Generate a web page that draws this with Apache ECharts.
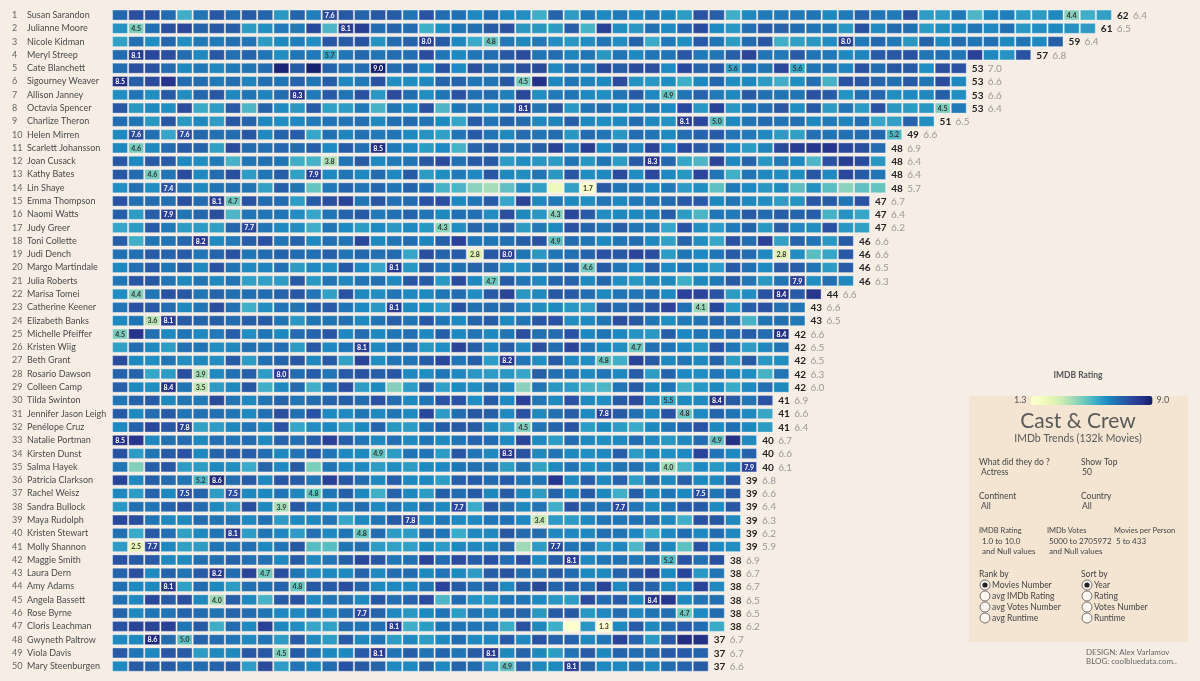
<!DOCTYPE html>
<html><head><meta charset="utf-8">
<script src="https://cdn.jsdelivr.net/npm/echarts/dist/echarts.min.js"></script>
<style>html,body{margin:0;padding:0;background:#f6eee5;}#chart{width:1200px;height:681px;}</style>
</head><body><div id="chart"></div>
<script>
const names = ["Susan Sarandon","Julianne Moore","Nicole Kidman","Meryl Streep","Cate Blanchett","Sigourney Weaver","Allison Janney","Octavia Spencer","Charlize Theron","Helen Mirren","Scarlett Johansson","Joan Cusack","Kathy Bates","Lin Shaye","Emma Thompson","Naomi Watts","Judy Greer","Toni Collette","Judi Dench","Margo Martindale","Julia Roberts","Marisa Tomei","Catherine Keener","Elizabeth Banks","Michelle Pfeiffer","Kristen Wiig","Beth Grant","Rosario Dawson","Colleen Camp","Tilda Swinton","Jennifer Jason Leigh","Penélope Cruz","Natalie Portman","Kirsten Dunst","Salma Hayek","Patricia Clarkson","Rachel Weisz","Sandra Bullock","Maya Rudolph","Kristen Stewart","Molly Shannon","Maggie Smith","Laura Dern","Amy Adams","Angela Bassett","Rose Byrne","Cloris Leachman","Gwyneth Paltrow","Viola Davis","Mary Steenburgen"];
const movieCounts = [62,61,59,57,53,53,53,53,51,49,48,48,48,48,47,47,47,46,46,46,46,44,43,43,42,42,42,42,42,41,41,41,40,40,40,39,39,39,39,39,39,38,38,38,38,38,38,37,37,37];
const avgRatings = [6.4,6.5,6.4,6.8,7.0,6.6,6.6,6.4,6.5,6.6,6.9,6.4,6.4,5.7,6.7,6.4,6.2,6.6,6.6,6.5,6.3,6.6,6.6,6.5,6.6,6.5,6.5,6.3,6.0,6.9,6.6,6.4,6.7,6.6,6.1,6.8,6.6,6.4,6.3,6.2,5.9,6.9,6.7,6.7,6.5,6.5,6.2,6.7,6.7,6.6];
const ratingRange = [1.3, 9.0];
// movie ratings per actress, in year order
const ratings = [
[6.9,7.5,7.4,6.8,5.4,6.6,7.3,6.8,7.2,7.0,5.9,7.0,6.4,7.6,7.3,7.0,7.3,7.2, 6.6,7.4,6.8,6.7,6.2,6.7,6.2,6.1,5.4,7.0,5.8,6.5,6.2,6.5,6.2,6.5,6.2,5.8,7.4,7.1,5.4,6.2,6.5,6.5, 6.5,6.6,6.2,6.5,7.0,6.6,6.5,7.5,5.8,5.8,6.5,5.2,6.2,6.4,5.8,5.8,6.2,4.4,5.4,5.7],
[6.0,4.5,6.7,7.5,7.7,7.0,7.3,7.1,5.8,6.1,6.5,6.5,7.7,5.2,8.1,8.0,6.8,7.0, 6.8,5.4,6.1,6.6,6.7,7.2,7.4,5.9,5.9,5.8,7.1,5.3,7.9,6.1,5.9,6.7,6.2,6.9,7.6,6.2,5.9,6.7,7.2,7.0, 6.8,6.6,6.5,5.9,7.4,6.2,6.8,6.7,5.8,6.1,6.2,6.6,6.2,6.7,5.9,6.1,6.2,6.0,5.8],
[5.7,6.7,6.1,6.9,6.1,6.5,6.5,6.7,6.6,5.8,6.2,6.4,6.1,7.3,7.2,7.4,6.0,6.8, 7.0,8.0,7.2,6.2,5.5,4.8,6.5,6.2,6.5,6.1,5.9,6.1,6.6,6.1,7.0,5.5,6.5,6.1,7.2,6.6,5.8,6.8,7.3,5.4, 5.7,5.9,6.1,8.0,6.5,6.9,6.5,5.9,7.0,6.2,6.8,6.6,6.7,6.2,6.6,6.2,7.1],
[6.8,8.1,7.7,7.5,6.8,6.2,7.3,6.7,7.0,6.6,6.1,6.6,6.5,5.7,6.6,6.9,6.6,6.8, 6.7,7.6,6.6,6.2,6.6,6.8,7.3,7.6,6.6,6.8,6.3,6.6,5.9,6.6,6.2,6.6,6.6,7.3,6.5,6.6,7.1,7.8,6.6,6.5, 7.2,6.6,6.5,6.2,6.3,7.2,7.3,7.4,6.6,6.7,6.6,7.9,6.2,6.0,7.4],
[6.8,7.5,7.4,6.8,6.2,6.5,6.2,6.5,6.6,6.8,8.8,7.2,8.9,7.0,6.7,6.8,9.0,6.8, 7.0,6.2,7.4,6.2,7.5,6.8,7.0,7.5,7.6,6.2,6.7,6.5,7.7,7.1,7.6,7.5,6.2,7.7,7.0,7.3,5.6,6.7,6.6,7.7, 5.6,6.6,6.6,6.3,7.4,6.8,7.3,7.2,6.1,7.5,7.4],
[8.5,7.1,7.6,8.3,6.8,6.8,6.5,6.7,6.3,6.7,6.6,7.0,6.6,7.1,6.2,6.5,7.4,6.1, 6.1,6.2,7.0,7.0,6.6,6.6,7.3,4.5,8.4,6.2,6.6,6.3,6.2,7.6,6.0,5.9,6.1,5.4,6.2,6.9,6.1,6.2,5.8,5.4, 6.1,6.7,5.3,7.4,7.3,7.0,6.7,7.2,6.6,7.6,6.2],
[6.1,6.6,6.1,7.2,6.1,6.9,7.3,6.2,6.6,6.3,6.8,8.3,6.5,7.2,6.6,7.4,5.9,7.6, 6.8,6.1,6.6,7.4,6.7,6.8,6.4,7.7,6.1,6.5,6.6,6.2,6.1,6.6,7.2,6.2,4.9,6.6,7.0,6.5,6.2,7.2,6.7,6.6, 6.6,7.4,7.2,6.0,6.7,6.9,6.1,6.2,6.2,7.1,6.1],
[7.3,5.9,6.2,6.1,7.6,5.5,5.8,7.2,5.2,7.0,6.2,5.9,7.2,5.7,5.8,6.5,5.3,6.6, 6.1,7.4,5.2,6.6,6.5,6.2,6.7,8.1,6.6,7.3,5.9,6.6,6.8,6.2,6.2,6.6,6.2,7.7,5.9,7.9,5.9,6.6,6.8,7.3, 6.1,7.2,5.8,6.6,5.8,7.4,5.9,5.8,5.9,4.5,6.5],
[6.8,6.6,5.9,7.3,5.9,6.2,5.8,7.3,7.0,6.2,6.1,6.2,6.5,6.6,6.6,6.7,6.2,6.7, 6.8,6.6,6.2,5.6,7.2,6.6,7.0,6.8,6.2,6.3,7.1,6.2,6.1,6.2,6.8,6.2,6.0,8.1,7.7,5.0,6.2,6.6,6.8,6.6, 6.7,6.2,6.5,6.3,6.7,5.6,5.7,7.0,6.1],
[6.2,7.6,6.7,5.6,7.6,6.9,6.7,6.8,7.3,6.2,7.0,7.1,5.6,6.7,6.3,6.7,6.5,6.6, 6.2,6.0,5.7,6.6,7.2,6.6,6.2,6.8,6.6,6.8,5.9,6.8,6.6,5.9,6.8,6.6,6.2,6.8,7.0,7.2,6.6,6.5,6.2,5.8, 5.7,6.7,6.6,6.7,6.8,6.9,5.2],
[6.2,4.6,6.2,6.8,7.2,7.0,5.7,7.6,6.8,6.7,6.9,6.8,7.1,6.2,7.2,6.7,8.5,6.5, 6.2,5.8,6.2,5.3,7.0,7.2,6.8,6.8,7.1,7.9,6.5,8.0,6.2,7.0,6.3,7.8,6.2,7.7,7.2,7.1,6.2,5.8,6.3,7.7, 8.0,8.2,8.3,7.7,7.5,6.8],
[7.3,6.2,7.2,7.2,6.2,6.1,6.5,5.3,6.6,6.7,6.6,5.4,5.3,3.8,6.6,7.2,6.2,6.5, 6.6,7.3,7.6,6.7,7.2,7.2,5.8,6.1,5.9,5.8,6.6,5.9,6.6,5.8,7.2,8.3,6.9,5.6,5.2,7.8,6.2,7.0,5.9,6.5, 6.2,5.2,7.4,8.0,7.6,5.9],
[7.3,6.8,4.6,6.6,7.6,6.2,6.8,7.5,5.8,6.6,7.1,5.7,7.9,6.2,6.6,6.2,6.8,6.2, 7.2,5.8,6.1,6.5,6.2,7.3,6.2,6.1,6.6,5.9,7.3,6.1,6.2,7.6,6.1,7.7,6.2,5.9,7.8,6.6,5.4,6.6,6.2,6.1, 6.1,7.3,6.2,7.7,7.2,6.6],
[6.1,6.7,6.1,7.4,6.6,6.2,6.6,6.7,6.6,5.7,7.1,6.6,4.8,6.5,7.0,6.6,6.9,6.6, 7.0,6.6,5.3,5.2,4.3,3.9,4.9,6.0,5.7,2.2,5.7,1.7,7.2,6.6,6.6,6.2,6.5,5.8,6.1,4.9,6.5,6.2,5.9,6.2, 5.0,6.0,5.0,4.3,4.9,4.8],
[7.4,6.7,6.8,6.7,7.5,6.8,8.1,4.7,7.4,6.8,6.8,5.8,7.2,7.5,7.8,6.6,7.3,6.7, 6.8,7.4,7.5,6.2,6.6,7.2,5.6,7.8,6.2,6.5,6.2,6.1,6.6,6.2,6.5,6.6,6.8,7.2,7.2,6.2,6.6,6.2,6.1,5.8, 6.0,7.3,7.2,6.6,7.4],
[7.1,5.8,7.1,7.9,6.6,6.9,7.5,5.2,6.6,6.6,6.6,6.1,5.6,6.6,7.0,7.2,6.5,6.7, 7.0,6.6,6.2,6.7,6.7,6.1,7.5,6.2,5.9,4.3,7.7,7.2,6.1,6.2,6.2,6.3,7.1,5.8,5.2,6.6,6.5,7.2,6.8,7.1, 7.0,7.1,5.3,6.0,5.6],
[5.6,5.8,7.2,6.5,5.8,5.8,5.7,6.9,7.7,6.6,6.2,6.1,5.4,6.6,6.2,5.8,6.2,5.9, 6.2,5.9,4.3,6.1,6.9,6.6,7.2,5.8,6.5,6.2,7.4,7.0,6.6,7.1,6.6,6.5,5.6,7.4,6.1,5.8,6.5,7.0,5.9,7.1, 6.2,6.1,7.4,5.9,5.7],
[7.1,5.4,6.6,6.6,6.9,8.2,6.2,6.5,7.1,7.4,6.6,7.0,6.2,6.7,6.6,7.7,6.2,6.6, 6.8,6.3,7.1,7.9,6.6,6.6,6.7,7.1,7.4,4.9,6.8,6.6,6.2,6.6,6.8,6.2,5.7,7.0,6.1,5.6,7.4,6.8,7.9,5.7, 7.0,6.6,5.9,7.2],
[6.7,6.7,7.2,7.0,7.2,6.6,7.0,7.4,6.6,6.8,7.0,6.8,6.7,7.1,6.6,6.9,6.7,6.8, 5.6,7.5,7.0,7.2,2.8,7.3,8.0,6.6,5.9,6.6,6.7,7.0,7.4,7.3,7.8,7.5,5.8,6.6,6.2,6.6,7.2,6.8,6.2,2.8, 6.1,5.0,5.6,7.3],
[6.2,6.7,7.2,6.6,7.1,6.2,7.4,6.6,6.2,6.3,6.7,5.8,6.2,6.1,7.3,6.2,5.6,8.1, 5.9,7.2,6.6,6.7,7.0,6.9,6.2,6.1,6.6,6.6,7.0,4.6,7.2,6.6,6.2,7.1,6.2,6.6,6.2,5.8,7.2,6.7,6.2,7.1, 7.1,6.6,5.8,7.2],
[6.6,7.3,7.3,6.6,6.2,6.6,6.2,6.6,5.7,5.7,5.8,7.2,5.9,6.6,6.2,6.6,6.7,6.2, 7.3,7.2,5.9,7.6,6.2,4.7,7.2,6.6,6.2,6.9,7.0,6.2,6.9,6.1,5.9,6.2,6.2,5.4,6.2,6.5,7.2,6.6,5.9,6.6, 7.9,6.1,6.7,6.2],
[6.1,4.4,6.6,7.4,7.3,6.6,7.0,6.7,6.7,6.8,7.0,7.3,6.6,5.7,7.4,6.2,6.1,6.6, 6.2,6.2,6.6,6.8,6.1,7.2,7.8,5.9,6.2,7.3,7.2,6.8,6.2,6.6,6.6,6.7,6.2,7.9,7.8,7.4,5.8,6.1,7.4,8.4, 7.2,8.2],
[6.6,7.4,7.2,6.8,6.2,6.6,7.6,6.7,5.4,6.1,6.6,6.6,7.1,7.2,6.6,6.2,5.9,8.1, 6.2,6.1,5.8,7.4,6.7,6.8,7.0,6.2,6.1,6.2,5.9,5.8,7.2,6.8,7.1,7.4,7.8,6.7,4.1,7.7,5.9,7.1,7.4,6.7, 6.6],
[6.2,6.6,3.6,8.1,7.2,7.0,7.1,6.8,7.1,7.2,6.6,5.9,6.6,6.6,6.7,6.2,6.6,7.1, 6.6,7.3,6.6,6.2,7.0,7.2,6.2,6.6,7.3,7.4,6.1,6.2,6.6,7.5,7.3,6.6,6.1,6.5,6.6,7.0,6.7,5.3,6.6,6.7, 6.5],
[4.5,8.3,6.7,6.2,6.6,6.2,6.5,7.1,6.1,6.6,6.2,6.8,7.0,7.3,6.2,6.8,6.2,6.6, 6.7,6.2,7.1,6.2,6.6,6.2,6.6,7.5,6.7,6.8,7.4,6.2,6.6,6.2,6.0,5.9,7.1,6.2,6.6,6.6,6.8,7.1,6.8,8.4],
[5.7,6.8,6.2,5.8,6.7,6.6,6.1,6.2,6.7,6.6,6.8,5.8,7.3,6.2,6.6,8.1,6.2,6.6, 6.7,5.9,6.1,7.8,7.1,6.2,7.1,6.2,7.5,6.8,7.8,6.6,6.2,6.1,4.7,6.7,6.6,6.2,5.9,7.4,6.6,5.8,6.2,6.6],
[7.6,6.2,6.1,6.6,6.1,6.2,6.1,7.2,5.8,6.7,7.0,7.3,6.2,7.2,5.7,7.8,6.1,6.6, 6.6,7.2,7.7,6.6,7.1,5.8,8.2,6.6,6.1,7.2,6.2,6.1,4.8,5.4,7.9,7.2,6.2,6.6,6.2,7.0,5.8,7.2,5.9,6.1],
[7.0,7.0,5.6,5.8,7.5,3.9,6.2,6.7,7.1,5.8,8.0,6.8,7.2,6.6,7.2,7.4,7.1,7.3, 6.2,6.1,6.6,6.2,5.9,5.8,5.9,5.6,7.1,6.7,6.6,6.2,6.6,6.2,7.2,5.8,7.0,6.2,6.1,6.6,6.2,6.1,5.3,6.6],
[7.1,6.2,6.1,8.4,6.6,3.5,5.8,6.2,7.3,5.4,6.2,6.8,5.4,6.6,7.5,5.8,6.2,4.4, 5.8,7.2,5.7,6.2,6.1,6.6,6.2,4.3,6.6,5.9,5.8,5.3,5.2,6.6,7.2,6.2,6.6,5.4,5.9,6.2,5.5,6.2,6.7,6.2],
[6.6,7.0,7.2,6.2,6.6,6.5,7.6,6.6,6.2,6.6,7.0,6.6,6.8,7.0,7.1,6.8,7.4,6.8, 6.2,6.6,7.4,7.4,6.1,7.2,6.2,7.9,6.6,6.2,7.4,6.2,6.1,7.2,7.6,6.2,5.5,6.2,6.2,8.4,7.2,6.6,7.4],
[7.2,6.2,6.8,7.2,6.6,6.7,6.7,6.6,6.2,6.7,7.5,6.7,7.4,6.2,6.2,6.6,6.2,6.6, 6.2,7.7,5.8,6.8,7.3,7.1,6.2,7.4,6.2,6.7,7.1,6.2,7.8,7.2,6.7,6.2,7.4,4.8,6.2,7.0,6.6,6.2,5.6],
[6.2,7.0,7.7,7.3,7.8,5.7,5.8,6.2,6.6,6.2,7.4,5.6,6.1,6.2,5.8,6.2,7.0,5.9, 5.8,6.6,7.2,7.3,7.2,6.2,5.7,4.5,6.6,7.0,7.4,5.8,6.2,5.8,5.5,6.2,6.6,7.0,7.4,6.2,6.7,6.2,5.8],
[8.5,8.2,6.2,6.7,6.8,6.2,6.7,6.6,6.8,6.2,7.0,6.7,7.1,7.9,7.1,6.6,6.2,6.7, 6.2,6.6,6.2,6.6,7.0,6.8,6.2,7.8,6.2,5.8,6.8,6.2,6.1,6.2,6.8,6.2,5.9,6.2,6.8,4.9,8.4,6.2],
[7.4,5.8,6.6,7.2,7.4,6.2,7.0,7.1,7.1,6.8,6.2,6.6,7.2,6.6,6.2,6.2,4.9,5.8, 6.6,6.6,5.8,7.3,6.6,6.2,8.3,7.4,6.2,6.6,6.2,6.1,6.2,7.1,5.8,6.2,6.1,6.2,7.8,6.6,6.2,7.0],
[6.6,4.4,7.1,7.3,5.8,5.8,6.2,6.1,5.5,7.0,6.2,7.2,4.5,6.6,6.2,6.2,5.8,6.1, 5.8,6.2,6.2,6.6,6.7,6.6,5.8,6.6,5.7,6.2,6.6,6.1,6.2,6.6,6.7,6.2,4.0,5.3,6.2,5.9,6.2,7.9],
[7.8,6.2,7.1,6.8,6.6,5.2,8.6,6.8,7.2,6.2,7.3,7.2,6.6,7.9,7.3,6.8,6.2,7.1, 6.2,6.2,5.8,7.1,7.2,6.8,7.2,6.6,6.6,8.2,6.2,7.1,6.2,7.0,5.8,6.8,6.2,7.1,6.2,6.2,7.3],
[6.2,5.8,7.0,6.2,7.5,7.0,5.8,7.5,6.2,6.2,6.6,6.2,4.8,6.6,7.1,6.2,5.4,7.0, 6.2,5.8,7.1,6.8,7.2,6.2,7.2,6.2,5.8,7.0,6.2,7.2,6.2,5.4,7.1,6.2,6.6,6.2,7.5,6.6,7.2],
[5.9,6.7,6.6,7.0,7.4,6.8,6.2,5.8,7.5,6.2,3.9,7.3,6.6,6.2,6.6,6.8,6.2,6.6, 6.2,6.6,6.2,7.7,5.5,7.2,6.8,6.2,6.6,5.4,7.4,6.8,6.6,7.7,6.6,6.2,6.6,7.2,7.2,6.2,7.3],
[7.7,7.5,6.6,6.2,6.2,6.8,6.6,6.6,6.2,6.7,5.8,6.2,6.2,6.6,5.6,6.2,6.6,7.2, 7.8,6.2,6.6,6.2,6.2,6.6,6.7,6.2,3.4,5.8,5.8,6.2,6.6,6.6,6.7,6.8,6.2,5.4,7.4,7.3,6.2],
[6.7,5.5,7.2,6.7,5.7,6.2,6.6,8.1,5.8,6.6,6.2,5.8,6.7,6.2,6.6,4.8,6.8,5.8, 5.8,6.8,6.6,5.5,6.2,6.2,7.3,6.8,6.8,6.2,6.2,6.2,6.7,6.6,6.2,5.5,6.2,6.8,6.2,6.8,6.2],
[5.8,2.5,7.7,6.2,5.7,5.8,6.6,6.6,6.7,6.2,6.6,7.3,5.0,5.0,6.6,6.7,5.8,5.7, 5.7,6.2,5.8,6.2,6.2,6.2,7.0,4.0,5.8,7.7,6.6,6.6,5.8,6.2,5.2,7.0,6.2,4.9,7.4,6.2,6.1],
[7.4,7.2,7.2,6.2,6.2,6.7,6.7,7.0,6.7,6.7,6.2,7.2,6.2,6.6,7.1,7.7,7.3,6.6, 6.7,7.8,6.8,7.6,7.1,7.4,6.8,7.5,6.2,7.1,8.1,6.2,6.6,6.7,6.6,6.7,5.2,7.4,6.7,7.5],
[7.0,7.5,6.2,7.0,6.6,7.2,8.2,6.8,7.8,4.7,7.5,6.6,6.1,6.2,6.2,7.0,6.2,6.8, 6.8,6.2,6.6,6.2,5.8,7.1,7.4,6.8,6.6,7.2,6.8,6.2,6.2,7.0,7.3,7.8,6.2,7.8,5.9,6.6],
[6.7,6.2,6.2,8.1,5.7,6.8,6.2,5.8,6.7,6.7,7.0,4.8,7.3,7.2,7.5,7.0,6.2,6.2, 6.2,6.6,7.8,7.2,6.8,7.2,6.2,7.2,7.7,7.0,7.2,6.8,7.8,6.2,7.2,7.0,6.2,6.2,7.8,6.2],
[6.7,6.2,7.7,7.2,7.5,6.2,4.0,7.1,6.2,5.3,7.2,7.4,6.2,6.6,6.7,6.2,7.3,6.7, 7.0,7.6,5.2,6.8,6.0,5.9,6.6,6.6,6.2,5.9,5.8,7.6,6.8,7.2,6.2,8.4,8.2,6.2,6.6,6.7],
[7.0,6.2,6.6,6.6,7.0,6.8,6.6,7.0,6.8,6.6,6.2,6.2,6.6,6.2,6.8,7.7,7.0,6.2, 5.9,6.2,6.6,5.8,6.6,6.2,6.8,7.0,5.9,7.2,7.3,5.9,6.2,6.8,6.2,6.6,6.7,4.7,6.2,6.8],
[7.4,7.8,7.8,7.9,6.6,7.2,5.4,6.8,6.2,7.9,6.2,6.1,5.6,5.7,6.8,6.6,6.7,8.1, 5.4,5.8,6.6,6.6,6.6,6.5,5.5,7.4,6.2,5.4,1.5,5.9,1.3,6.2,7.2,6.2,6.8,7.2,6.8,5.5],
[6.2,6.2,8.6,6.8,5.0,7.0,6.8,6.6,6.2,6.6,5.8,7.2,6.2,5.8,7.2,6.2,6.6,5.8, 6.2,5.8,6.2,6.8,6.2,6.2,7.2,6.2,7.4,7.0,7.0,6.2,6.6,7.8,7.0,5.9,7.3,8.5,8.4],
[7.2,6.6,6.2,7.3,7.2,5.8,6.2,6.2,7.3,7.3,4.5,7.2,6.6,6.2,6.2,7.2,8.1,6.6, 7.1,6.6,7.0,6.6,7.2,8.1,6.2,7.0,6.2,5.8,6.6,7.2,6.2,7.0,6.8,6.8,7.2,7.2,7.0],
[6.2,7.2,7.0,7.2,6.8,6.8,7.0,7.2,5.8,7.6,5.8,6.6,6.2,6.8,7.4,7.2,7.0,6.2, 6.2,7.0,6.2,7.0,6.8,5.8,4.9,7.0,6.2,6.2,8.1,7.0,6.2,6.2,6.6,6.2,6.8,7.0,7.2]
];
const rankByOptions = ["Movies Number","avg IMDb Rating","avg Votes Number","avg Runtime"];
const sortByOptions = ["Year","Rating","Votes Number","Runtime"];

const FONT = 'Lato, "Open Sans", sans-serif';
const chart = echarts.init(document.getElementById('chart'), null, {renderer: 'canvas'});
const maxCount = Math.max.apply(null, movieCounts);
const xCats = Array.from({length: maxCount}, (_, i) => String(i + 1));
const yCats = names.map((n, i) => (i + 1) + '|' + n);

const cellData = [];
ratings.forEach((row, r) => {
  const mx = Math.max.apply(null, row), mn = Math.min.apply(null, row);
  row.forEach((v, c) => cellData.push([c, r, v, (v === mx || v === mn) ? 1 : 0]));
});
const totalData = names.map((n, r) => [movieCounts[r] - 1, r, movieCounts[r], avgRatings[r]]);

const graphics = [];
const txt = (x, y, text, size, color, extra) => graphics.push({
  type: 'text', x: x, y: y, style: Object.assign({text: text, fontSize: size, fill: color, fontFamily: FONT, verticalAlign: 'middle'}, extra || {})
});
// panel
graphics.push({type: 'rect', shape: {x: 969, y: 396, width: 219, height: 246}, style: {fill: '#f4e5d3'}});
txt(1078, 375, 'IMDB Rating', 8.5, '#555', {align: 'center', fontWeight: 'bold'});
txt(1078, 421, 'Cast & Crew', 21, '#595959', {align: 'center'});
txt(1078, 439, 'IMDb Trends (132k Movies)', 10.5, '#595959', {align: 'center'});
txt(979, 462, 'What did they do ?', 8.5, '#444');
txt(981, 472, 'Actress', 8.5, '#444');
txt(1081, 462, 'Show Top', 8.5, '#444');
txt(1082, 472, '50', 8.5, '#444');
txt(979, 496, 'Continent', 8.5, '#444');
txt(981, 506, 'All', 8.5, '#444');
txt(1081, 496, 'Country', 8.5, '#444');
txt(1082, 506, 'All', 8.5, '#444');
txt(979, 531, 'IMDB Rating', 7.5, '#444');
txt(982, 541, '1.0 to 10.0', 8, '#444');
txt(982, 551, 'and Null values', 8, '#444');
txt(1047, 531, 'IMDb Votes', 7.5, '#444');
txt(1049, 541, '5000 to 2705972', 8, '#444');
txt(1049, 551, 'and Null values', 8, '#444');
txt(1114, 531, 'Movies per Person', 7.5, '#444');
txt(1116, 541, '5 to 433', 8, '#444');
txt(979, 574, 'Rank by', 8.5, '#444');
txt(1081, 574, 'Sort by', 8.5, '#444');
const radioY = [585, 596, 607, 618];
[[985, rankByOptions], [1087, sortByOptions]].forEach(([cx, opts]) => {
  opts.forEach((o, i) => {
    graphics.push({type: 'circle', shape: {cx: cx, cy: radioY[i], r: 5}, style: {fill: '#fbf6ef', stroke: '#555', lineWidth: 0.8}});
    if (i === 0) graphics.push({type: 'circle', shape: {cx: cx, cy: radioY[i], r: 2.6}, style: {fill: '#222'}});
    txt(cx + 7, radioY[i], o, 8.5, '#444');
  });
});
txt(1086, 652, 'DESIGN: Alex Varlamov', 8, '#666');
txt(1086, 661, 'BLOG: coolbluedata.com..', 8, '#666');

const option = {
  backgroundColor: '#f6eee5',
  animation: false,
  grid: {left: 112, top: 8.4, width: 1000, height: 664.5, containLabel: false},
  xAxis: {type: 'category', data: xCats, show: false, boundaryGap: true},
  yAxis: {
    type: 'category', data: yCats, inverse: true,
    axisLine: {show: false}, axisTick: {show: false}, splitLine: {show: false},
    axisLabel: {
      align: 'left', margin: 100, interval: 0,
      formatter: v => { const p = v.split('|'); return '{n|' + p[0] + '}{m|' + p[1] + '}'; },
      rich: {
        n: {width: 15, fontSize: 9, color: '#666', fontFamily: FONT},
        m: {fontSize: 9, color: '#4a4a4a', fontFamily: FONT}
      }
    }
  },
  visualMap: {
    type: 'continuous', seriesIndex: 0, dimension: 2,
    min: ratingRange[0], max: ratingRange[1],
    orient: 'horizontal', left: 999, top: 381,
    itemWidth: 9, itemHeight: 122, calculable: false, hoverLink: false,
    text: [ratingRange[1].toFixed(1), ratingRange[0].toFixed(1)], textGap: 4,
    textStyle: {fontSize: 9, color: '#555', fontFamily: FONT},
    inRange: {color: ['#ffffd0', '#f4fbc0', '#e3f4b4', '#c5e8b4', '#98d8b9', '#66c4c0', '#3aaac8', '#1e88bf', '#2467ad', '#2b4b9d', '#26348c', '#141f6a']}
  },
  graphic: graphics,
  series: [
    {
      type: 'custom', data: cellData, encode: {x: 0, y: 1},
      renderItem: (params, api) => {
        const c = api.value(0), r = api.value(1), v = api.value(2), lab = api.value(3);
        const p = api.coord([c, r]);
        const s = api.size([1, 1]);
        const w = s[0] - 1.2, h = 10;
        const children = [{type: 'rect', shape: {x: p[0] - w / 2, y: p[1] - h / 2, width: w, height: h},
          style: {fill: api.visual('color'), stroke: 'rgba(255,255,255,0.35)', lineWidth: 1}}];
        if (lab) children.push({type: 'text', style: {text: v.toFixed(1), x: p[0], y: p[1] + 0.5, align: 'center', verticalAlign: 'middle',
          fontSize: 7, fontWeight: 'bold', fontFamily: FONT, fill: v >= 6.5 ? '#ffffff' : '#333333'}});
        return {type: 'group', children: children};
      }
    },
    {
      type: 'custom', data: totalData, encode: {x: 0, y: 1},
      renderItem: (params, api) => {
        const p = api.coord([api.value(0), api.value(1)]);
        const s = api.size([1, 1]);
        const x = p[0] + s[0] / 2 + 5;
        return {type: 'group', children: [
          {type: 'text', style: {text: String(api.value(2)), x: x, y: p[1] + 0.5, verticalAlign: 'middle', fontSize: 10, fontWeight: 'bold', fontFamily: FONT, fill: '#222'}},
          {type: 'text', style: {text: api.value(3).toFixed(1), x: x + 16, y: p[1] + 0.5, verticalAlign: 'middle', fontSize: 10, fontFamily: FONT, fill: '#999'}}
        ]};
      }
    }
  ]
};
chart.setOption(option);
</script>
</body></html>
